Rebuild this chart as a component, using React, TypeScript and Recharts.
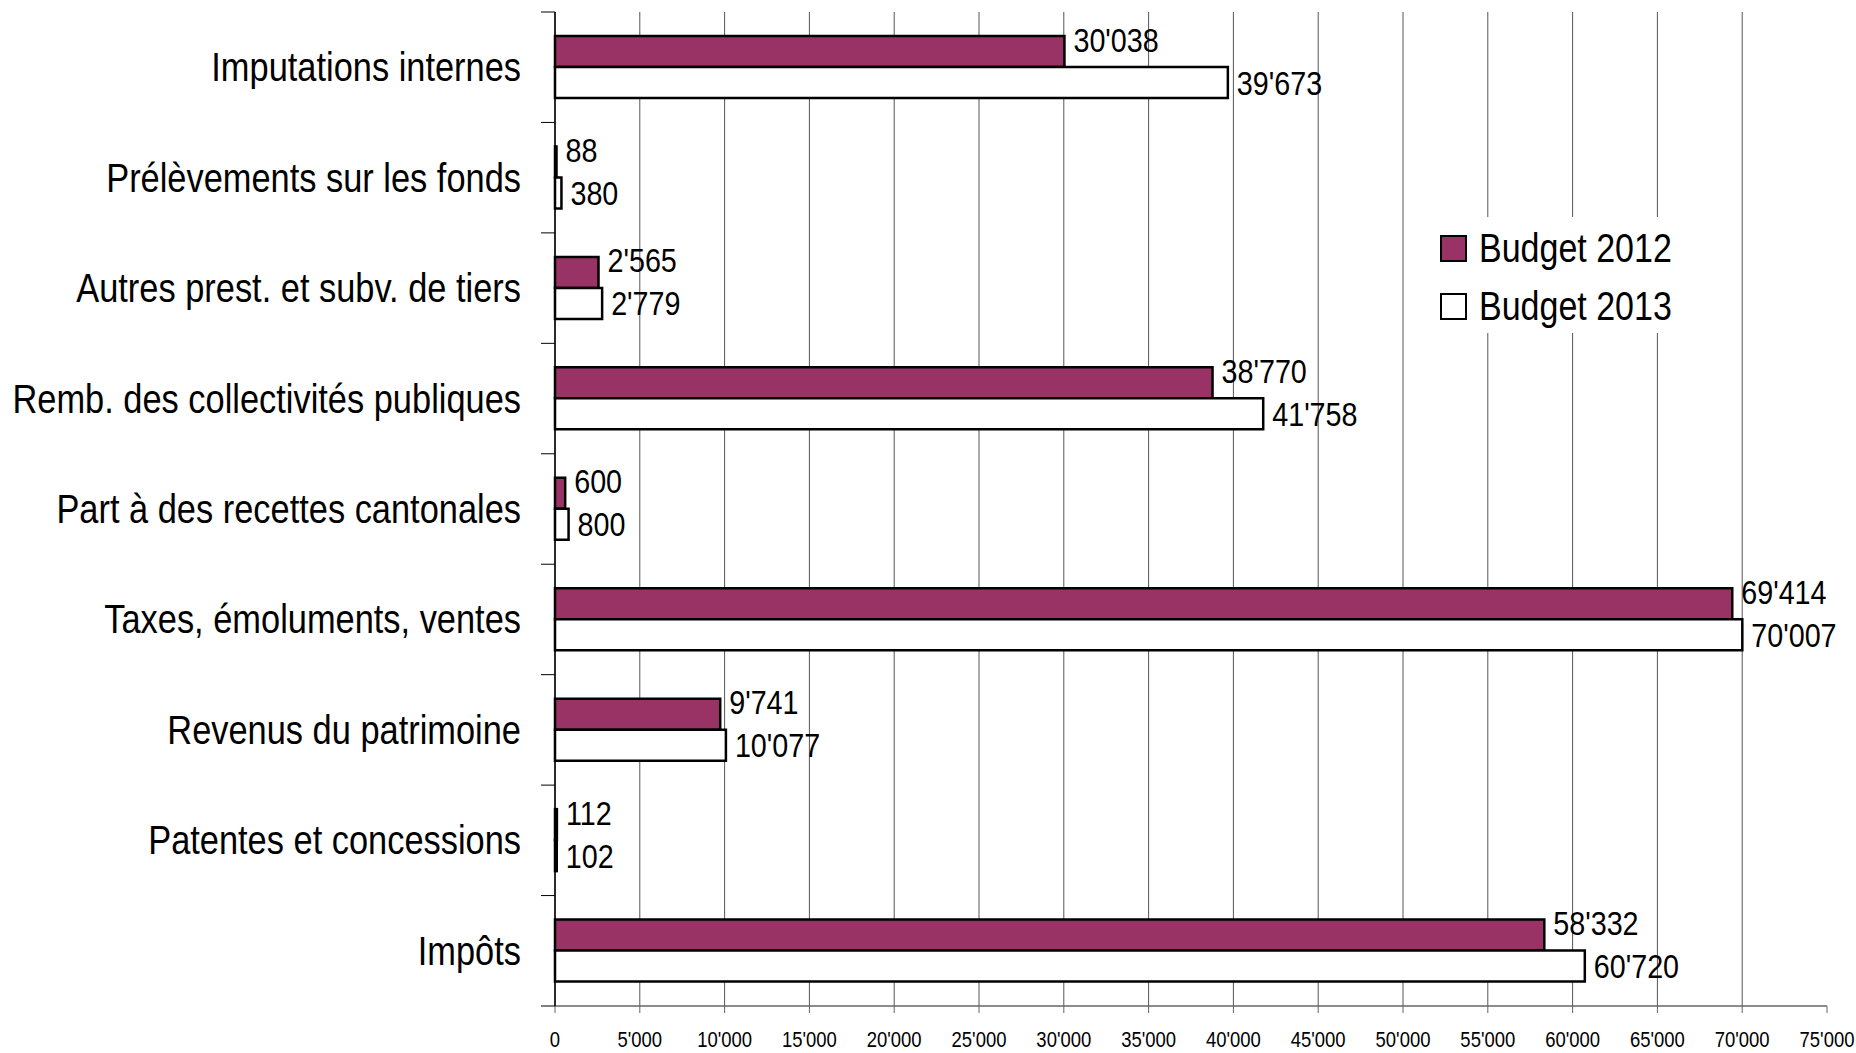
import { BarChart, Bar, XAxis, YAxis, CartesianGrid, Legend, LabelList } from 'recharts';

const categories = [
  'Imputations internes',
  'Prélèvements sur les fonds',
  'Autres prest. et subv. de tiers',
  'Remb. des collectivités publiques',
  'Part à des recettes cantonales',
  'Taxes, émoluments, ventes',
  'Revenus du patrimoine',
  'Patentes et concessions',
  'Impôts',
];
const budget2012 = [30038, 88, 2565, 38770, 600, 69414, 9741, 112, 58332];
const budget2013 = [39673, 380, 2779, 41758, 800, 70007, 10077, 102, 60720];
const xTicks = [0, 5000, 10000, 15000, 20000, 25000, 30000, 35000, 40000, 45000, 50000, 55000, 60000, 65000, 70000, 75000];

const data = categories.map((name, i) => ({ name, b2012: budget2012[i], b2013: budget2013[i] }));

const W = 1856;
const H = 1053;
const MARGIN = { top: 12, right: 29, left: 0, bottom: 0 };
const Y_WIDTH = 555;
const X_HEIGHT = 47;
const BAND = (H - MARGIN.top - MARGIN.bottom - X_HEIGHT) / categories.length;
const FONT = "'Liberation Sans', Arial, sans-serif";

const fmt = (n: number) => String(n).replace(/\B(?=(\d{3})+(?!\d))/g, "'");

// Arial-metric font squeezed horizontally to look like Arial Narrow
const NText = (p: { x: number; y: number; size: number; sx: number; anchor?: string; children: any }) => (
  <text
    transform={`translate(${p.x},${p.y}) scale(${p.sx},1)`}
    textAnchor={p.anchor || 'start'}
    fontSize={p.size}
    fontFamily={FONT}
    fill="#000"
  >
    {p.children}
  </text>
);

const CatTick = (props: any) => {
  const { x, y, payload, index } = props;
  const last = index === categories.length - 1;
  return (
    <g>
      <line x1={x - 14} x2={x} y1={y - BAND / 2} y2={y - BAND / 2} stroke="#000" strokeWidth={1} />
      {last && <line x1={x - 14} x2={x} y1={y + BAND / 2} y2={y + BAND / 2} stroke="#000" strokeWidth={1} />}
      <NText x={x - 34} y={y + 14} size={40} sx={0.86} anchor="end">
        {payload.value}
      </NText>
    </g>
  );
};

const ValueTick = (props: any) => {
  const { x, y, payload } = props;
  return (
    <NText x={x} y={y + 34} size={22} sx={0.84} anchor="middle">
      {fmt(payload.value)}
    </NText>
  );
};

const makeLabel = (dy: number) => (props: any) => {
  const { x, y, width, height, value } = props;
  return (
    <NText x={x + width + 9} y={y + height / 2 + dy + 12} size={33} sx={0.87}>
      {fmt(value)}
    </NText>
  );
};

const renderLegend = (props: any) => {
  const { payload } = props;
  return (
    <div style={{ paddingTop: 2, paddingLeft: 20 }}>
      {payload.map((entry: any) => (
        <div key={entry.value} style={{ display: 'flex', alignItems: 'center', height: 58, whiteSpace: 'nowrap' }}>
          <div style={{ width: 23, height: 23, background: entry.color, border: '2px solid #000', marginRight: 12, flex: 'none' }} />
          <span
            style={{
              fontFamily: FONT,
              fontSize: 40,
              color: '#000',
              lineHeight: '58px',
              display: 'inline-block',
              transform: 'scaleX(0.85)',
              transformOrigin: 'left center',
            }}
          >
            {entry.value}
          </span>
        </div>
      ))}
    </div>
  );
};

const gridLine = (props: any) => {
  if (props.index === xTicks.length - 1) return <g key={props.key} />;
  return <line key={props.key} x1={props.x1} x2={props.x2} y1={props.y1} y2={props.y2} stroke="#555" strokeWidth={1} />;
};

export default function App() {
  return (
    <div style={{ position: 'absolute', left: 0, top: 0, width: W, height: H, background: '#fff' }}>
      <BarChart width={W} height={H} data={data} layout="vertical" margin={MARGIN} barSize={31} barGap={0}>
        <CartesianGrid horizontal={false} vertical={gridLine} />
        <XAxis
          type="number"
          domain={[0, 75000]}
          ticks={xTicks}
          interval={0}
          height={X_HEIGHT}
          tickSize={7}
          tickMargin={0}
          axisLine={{ stroke: '#666', strokeWidth: 1.5 }}
          tickLine={{ stroke: '#666' }}
          tick={<ValueTick />}
        />
        <YAxis
          type="category"
          dataKey="name"
          width={Y_WIDTH}
          interval={0}
          tickSize={0}
          tickMargin={0}
          tickLine={false}
          axisLine={{ stroke: '#000', strokeWidth: 1.5 }}
          tick={<CatTick />}
        />
        <Legend
          layout="vertical"
          align="center"
          verticalAlign="middle"
          wrapperStyle={{ left: 1420, top: 217, width: 290, height: 116, background: '#fff' }}
          content={renderLegend}
        />
        <Bar dataKey="b2012" name="Budget 2012" fill="#993366" stroke="#000" strokeWidth={2.5} isAnimationActive={false}>
          <LabelList dataKey="b2012" content={makeLabel(-12)} />
        </Bar>
        <Bar dataKey="b2013" name="Budget 2013" fill="#ffffff" stroke="#000" strokeWidth={2.5} isAnimationActive={false}>
          <LabelList dataKey="b2013" content={makeLabel(0)} />
        </Bar>
      </BarChart>
    </div>
  );
}
